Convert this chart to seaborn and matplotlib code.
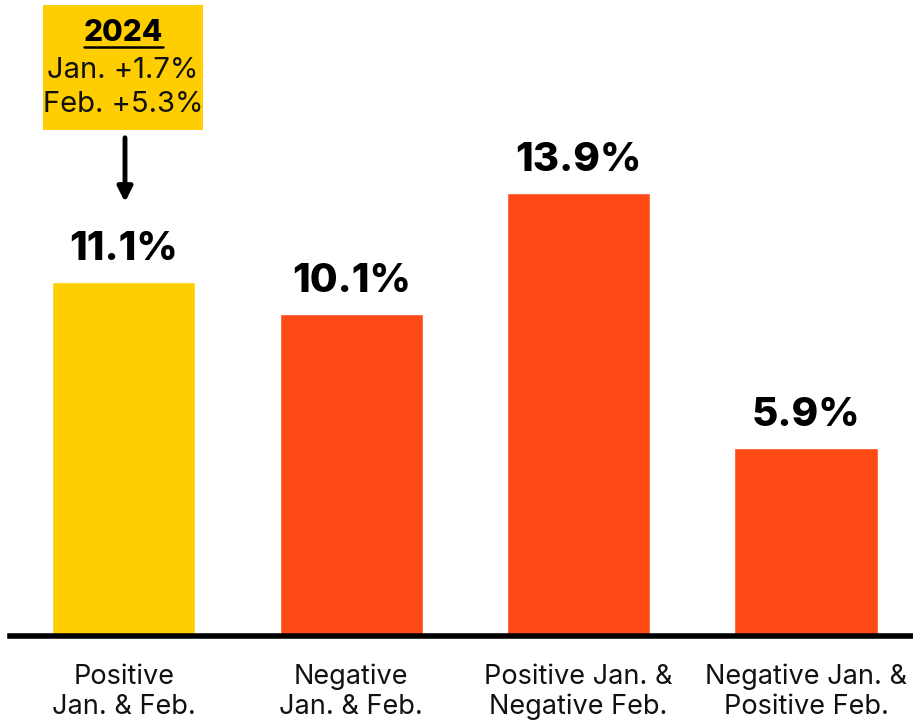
import matplotlib
matplotlib.use("Agg")
import matplotlib.pyplot as plt
import matplotlib.patches as mpatches
import matplotlib.lines as mlines
import pandas as pd
import seaborn as sns

categories = ["Positive\nJan. & Feb.", "Negative\nJan. & Feb.",
              "Positive Jan. &\nNegative Feb.", "Negative Jan. &\nPositive Feb."]
values = [11.1, 10.1, 13.9, 5.9]
labels = ["11.1%", "10.1%", "13.9%", "5.9%"]
colors = ["#FFCE00", "#FF4A16", "#FF4A16", "#FF4A16"]
box_title = "2024"
box_lines = ["Jan. +1.7%", "Feb. +5.3%"]

sns.set_theme(style="white")
plt.rcParams["font.family"] = ["Inter", "DejaVu Sans"]

df = pd.DataFrame({"cat": categories, "val": values})

fig = plt.figure(figsize=(9.13, 7.21), dpi=100)
ax = fig.add_axes([10 / 913, 85 / 721, 903 / 913, 636 / 721])
sns.barplot(data=df, x="cat", y="val", hue="cat", palette=colors,
            legend=False, width=0.63, saturation=1, ax=ax)

ax.set_xlim(-0.5, 3.47)
ax.set_ylim(0, 19.94)
for s in ["top", "right", "left"]:
    ax.spines[s].set_visible(False)
ax.spines["bottom"].set_linewidth(4)
ax.spines["bottom"].set_color("black")
ax.set_yticks([])
ax.set_xlabel("")
ax.set_ylabel("")
ax.tick_params(axis="x", length=0, pad=20, labelsize=19.5, labelcolor="#111111")
for t in ax.get_xticklabels():
    t.set_linespacing(1.2)

for i, (v, lab) in enumerate(zip(values, labels)):
    ax.annotate(lab, (i, v), xytext=(0, 10), textcoords="offset points",
                ha="center", va="bottom", fontsize=29, fontweight="heavy",
                color="black")

# 2024 callout box
fig.patches.append(mpatches.Rectangle((43 / 913, 1 - 130 / 721), 160 / 913, 125 / 721,
                                      transform=fig.transFigure, facecolor="#FFCE00",
                                      edgecolor="none", zorder=3))
fig.text(123 / 913, 1 - 33 / 721, box_title, ha="center", va="center",
         fontsize=21.5, fontweight="heavy", color="black", zorder=4)
fig.lines.append(mlines.Line2D([84 / 913, 163 / 913], [1 - 47 / 721, 1 - 47 / 721],
                               transform=fig.transFigure, color="black", lw=1.8, zorder=4))
for j, line in enumerate(box_lines):
    fig.text(123 / 913, 1 - (71 + 33 * j) / 721, line, ha="center", va="center",
             fontsize=21, color="#111111", zorder=4)

fig.add_artist(mpatches.FancyArrowPatch((125 / 913, 1 - 135 / 721), (125 / 913, 1 - 205 / 721),
                                        transform=fig.transFigure, arrowstyle="-|>",
                                        mutation_scale=22, lw=3.5, color="black"))

fig.savefig("out.png", dpi=100)
